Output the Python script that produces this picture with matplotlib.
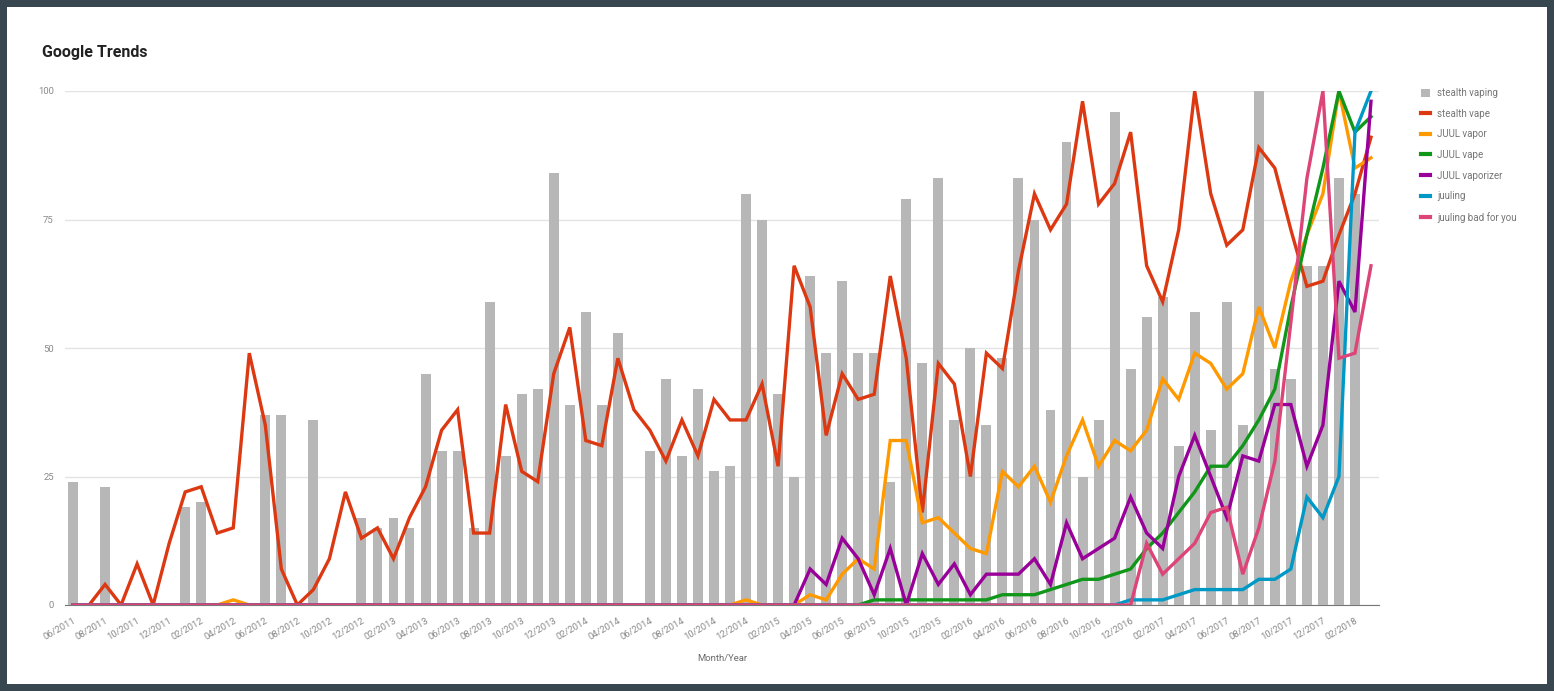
import matplotlib
matplotlib.use('Agg')
import matplotlib.pyplot as plt
from matplotlib.lines import Line2D
from matplotlib.patches import Patch
import numpy as np
import pandas as pd

plt.rcParams['font.family'] = ['Roboto', 'DejaVu Sans']

# monthly categories 06/2011 .. 03/2018
months = pd.date_range('2011-06-01', periods=82, freq='MS')
month_labels = [d.strftime('%m/%Y') for d in months]

# stealth vaping (bars); None = no value that month
stealth_vaping = [24, None, 23, None, None, None, None, 19, 20, None,
                  None, None, 37, 37, None, 36, None, None, 17, 15,
                  17, 15, 45, 30, 30, 15, 59, 29, 41, 42,
                  84, 39, 57, 39, 53, None, 30, 44, 29, 42,
                  26, 27, 80, 75, 41, 25, 64, 49, 63, 49,
                  49, 24, 79, 47, 83, 36, 50, 35, 48, 83,
                  75, 38, 90, 25, 36, 96, 46, 56, 60, 31,
                  57, 34, 59, 35, 100, 46, 44, 66, 66, 83,
                  80, None]

stealth_vape = [0, 0, 4, 0, 8, 0, 12, 22, 23, 14,
                15, 49, 35, 7, 0, 3, 9, 22, 13, 15,
                9, 17, 23, 34, 38, 14, 14, 39, 26, 24,
                45, 54, 32, 31, 48, 38, 34, 28, 36, 29,
                40, 36, 36, 43, 27, 66, 58, 33, 45, 40,
                41, 64, 48, 18, 47, 43, 25, 49, 46, 65,
                80, 73, 78, 98, 78, 82, 92, 66, 59, 73,
                100, 80, 70, 73, 89, 85, 73, 62, 63, 72,
                80, 91]

juul_vapor = [0, 0, 0, 0, 0, 0, 0, 0, 0, 0,
              1, 0, 0, 0, 0, 0, 0, 0, 0, 0,
              0, 0, 0, 0, 0, 0, 0, 0, 0, 0,
              0, 0, 0, 0, 0, 0, 0, 0, 0, 0,
              0, 0, 1, 0, 0, 0, 2, 1, 6, 9,
              7, 32, 32, 16, 17, 14, 11, 10, 26, 23,
              27, 20, 29, 36, 27, 32, 30, 34, 44, 40,
              49, 47, 42, 45, 58, 50, 63, 72, 80, 100,
              85, 87]

juul_vape = [0] * 50 + [1, 1, 1, 1, 1, 1, 1, 1, 2, 2,
                        2, 3, 4, 5, 5, 6, 7, 11, 14, 18,
                        22, 27, 27, 31, 36, 42, 58, 72, 85, 100,
                        92, 95]

juul_vaporizer = [0] * 46 + [7, 4, 13, 9,
                             2, 11, 0, 10, 4, 8, 2, 6, 6, 6,
                             9, 4, 16, 9, 11, 13, 21, 14, 11, 25,
                             33, 25, 17, 29, 28, 39, 39, 27, 35, 63,
                             57, 98]

juuling = [0] * 66 + [1, 1, 1, 2,
                      3, 3, 3, 3, 5, 5, 7, 21, 17, 25,
                      92, 100]

juuling_bad = [0] * 67 + [12, 6, 9,
                          12, 18, 19, 6, 15, 28, 55, 83, 100, 48,
                          49, 66]

line_series = [
    ('stealth vape', stealth_vape, '#dc3912'),
    ('JUUL vapor', juul_vapor, '#ff9900'),
    ('JUUL vape', juul_vape, '#109618'),
    ('JUUL vaporizer', juul_vaporizer, '#990099'),
    ('juuling', juuling, '#0099c6'),
    ('juuling bad for you', juuling_bad, '#dd4477'),
]
bar_color = '#b7b7b7'

fig = plt.figure(figsize=(15.54, 6.91), dpi=100, facecolor='#37464f')
# white card behind everything
card = fig.add_axes([7 / 1554, 7 / 691, 1540 / 1554, 677 / 691], zorder=0)
card.set_facecolor('white')
card.set_xticks([])
card.set_yticks([])
for s in card.spines.values():
    s.set_visible(False)

ax = fig.add_axes([65 / 1554, 1 - 605 / 691, 1314 / 1554, 514 / 691], zorder=2)
ax.set_facecolor('none')

x = np.arange(len(months))
bars = np.array([np.nan if v is None else v for v in stealth_vaping], dtype=float)
ax.bar(x, np.nan_to_num(bars), width=0.62, color=bar_color, zorder=2)

for name, vals, col in line_series:
    ax.plot(x, vals, color=col, lw=2.4, zorder=3, solid_joinstyle='miter')

ax.set_xlim(-0.5, len(months) - 0.5)
ax.set_ylim(0, 100)
ax.set_yticks([0, 25, 50, 75, 100])
ax.yaxis.grid(True, color='#e3e3e3', lw=1.0, zorder=0)
ax.set_axisbelow(True)
for s in ['top', 'right', 'left']:
    ax.spines[s].set_visible(False)
ax.spines['bottom'].set_color('#777777')
ax.spines['bottom'].set_zorder(1)
ax.tick_params(axis='y', length=0, labelsize=6.8, labelcolor='#8a8a8a', pad=8)
ax.tick_params(axis='x', length=0, labelsize=6.8, labelcolor='#8a8a8a', pad=8)

ax.set_xticks(x[::2])
ax.set_xticklabels(month_labels[::2], rotation=30, ha='right', rotation_mode='anchor')
ax.set_xlabel('Month/Year', fontsize=6.8, color='#6a6a6a', labelpad=9)

fig.text(42 / 1554, 1 - 53 / 691, 'Google Trends', fontsize=11.5, fontweight='bold',
         color='#222222', va='center', ha='left', zorder=5)

handles = [Patch(facecolor=bar_color, edgecolor='none', label='stealth vaping')]
for name, vals, col in line_series:
    handles.append(Line2D([0], [0], color=col, lw=3, label=name))
leg = fig.legend(handles=handles, loc='upper left', bbox_to_anchor=(1417 / 1554, 1 - 84 / 691),
                 frameon=False, fontsize=7, labelcolor='#757575', handlelength=0.9,
                 handleheight=0.9, handletextpad=0.8, labelspacing=1.1, borderaxespad=0)
leg.set_zorder(5)

fig.savefig('out.png', dpi=100, facecolor=fig.get_facecolor())
